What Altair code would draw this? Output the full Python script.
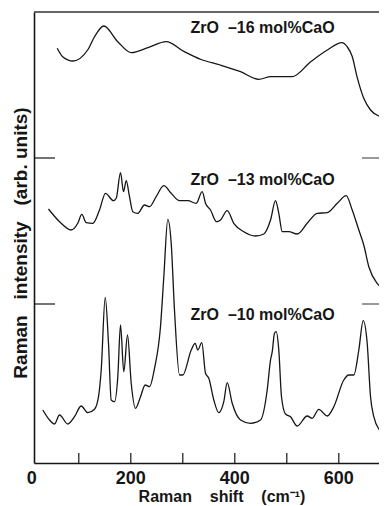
import altair as alt
import pandas as pd

# Raman shift (cm-1) and intensity (arb. units) relative to each trace's own baseline
shift_16 = [58.5, 69, 88.5, 117, 130, 148, 175, 201, 233, 268, 303, 335, 372, 411, 446,
            469, 510, 546, 578, 606, 616, 626, 635, 648, 661, 680, 693]
int_16 = [109.7, 101.3, 97, 108, 121, 132, 116.3, 105.3, 110.3, 116.3, 106.3, 98.5, 93, 86.3, 78.7,
          81.3, 81.3, 96.3, 108, 115.3, 111.3, 101.3, 81.3, 59.7, 48, 41.3, 38.7]

shift_13 = [41.7, 63, 85.4, 98, 105.8, 114.2, 127, 139.8, 151.3, 166.7, 172, 180.2, 186, 191.2,
            197.5, 203.8, 213.5, 226.3, 236, 248.8, 263.5, 277.7, 293.7, 309.6, 325.8, 337.3,
            343.7, 353.3, 364.8, 372.5, 385.4, 398, 417.3, 439.8, 455.8, 468.7, 478.3, 484.6,
            491.2, 503.8, 520, 539.2, 558.5, 577.7, 597, 614.2, 625.8, 638.5, 648, 657.7, 673.8, 693]
int_13 = [95, 82.3, 74, 80.7, 89.7, 81.3, 80.7, 94, 110.7, 103.3, 105.7, 131.3, 112.3, 123.3,
          107.3, 92.3, 90.7, 99, 97.3, 107.3, 118.3, 110.7, 103.3, 103.3, 100.7, 112.3,
          100.7, 94, 82.3, 84, 93.3, 80.7, 72.3, 68, 70, 84, 103.3, 90.7,
          72.3, 72.3, 70, 80.7, 90.7, 91.3, 100.7, 108.3, 94, 74, 59, 37.3, 20.7, 14]

shift_10 = [30.8, 43.7, 53.3, 62.9, 78.8, 91.7, 104.6, 117.3, 130.2, 137.9, 143.1, 150.8, 157.1,
            162.3, 168.7, 175, 180.2, 186.5, 193.7, 200.8, 209, 218.7, 227.7, 236, 245.6, 257.1,
            263.5, 271.2, 277.7, 284, 293.7, 300, 316.2, 323.8, 328.8, 336.5, 343.7, 350, 359.6,
            369.2, 378.8, 385.4, 395, 411, 430.2, 449.4, 462.3, 468.7, 472, 476.3, 479.6, 484.6,
            489.8, 497.5, 507.1, 520, 539.2, 548.8, 561.5, 577.7, 590.4, 609.6, 619.2, 628.8,
            638.5, 646.9, 654.6, 661, 667.3, 680.2, 693]
int_10 = [53, 43, 39, 48, 39, 46.3, 57, 50.3, 53.7, 66.3, 93, 165.7, 119.7,
          63, 61.3, 86.3, 138, 91.3, 128, 79.7, 54.7, 66.3, 78, 76.3, 94.7, 136.3,
          186.3, 243.7, 219.7, 153, 88, 88, 113, 119.7, 113, 120.3, 89.7, 84.7, 63,
          50.3, 61.3, 80.3, 59.7, 43, 39.7, 43, 73, 103, 111.3, 129.7, 131.3, 113,
          66.3, 49, 46.3, 37, 47, 44.7, 53.7, 47, 56.3, 83, 88, 88,
          113, 142.3, 119.7, 66.3, 46.3, 31.3, 23]

NB = "\u00a0"
series_names = ["ZrO" + NB * 2 + "\u201316" + NB + "mol%CaO",
                "ZrO" + NB * 2 + "\u201313" + NB + "mol%CaO",
                "ZrO" + NB * 2 + "\u201310" + NB + "mol%CaO"]
offsets = [305, 159, 0]
label_shift = [315, 315, 315]
label_rel_height = [125, 119, 143]

tick_values = [100, 200, 300, 400, 500, 600]
tick_labels = ["0", "200", "400", "600"]
tick_label_values = [0, 200, 400, 600]

x_title = "Raman" + NB * 4 + "shift" + NB * 4 + "(cm\u207b\u00b9)"
y_title = "Raman" + NB * 3 + "intensity" + NB * 3 + "(arb." + NB + "units)"

W, H = 345, 451
FONT = "Liberation Sans"
INK = "#161616"

rows = []
for name, off, xs_, ys_ in zip(series_names, offsets,
                               [shift_16, shift_13, shift_10],
                               [int_16, int_13, int_10]):
    for xv, yv in zip(xs_, ys_):
        rows.append({"series": name, "shift": xv, "y": yv + off})
spec = pd.DataFrame(rows)

xs = alt.Scale(domain=[13.85, 677.3], nice=False, zero=False)
ys = alt.Scale(domain=[0, 451], nice=False, zero=False)

lines = alt.Chart(spec).mark_line(
    color=INK, strokeWidth=1.3, interpolate="monotone", clip=True
).encode(
    x=alt.X("shift:Q", scale=xs,
            axis=alt.Axis(labels=False, ticks=False, grid=False, title=None,
                          domainColor=INK, domainWidth=1.6)),
    y=alt.Y("y:Q", scale=ys,
            axis=alt.Axis(labels=False, ticks=False, grid=False, title=None,
                          domainColor=INK, domainWidth=1.6)),
    detail="series:N",
    order="shift:Q",
)

lab_df = pd.DataFrame({
    "label": series_names,
    "shift": label_shift,
    "y": [h + o for h, o in zip(label_rel_height, offsets)],
})
labels = alt.Chart(lab_df).mark_text(
    align="left", baseline="alphabetic", font=FONT, fontSize=16, fontWeight="bold", color=INK
).encode(x=alt.X("shift:Q", scale=xs), y=alt.Y("y:Q", scale=ys), text="label:N")

base_df = pd.DataFrame({"y": offsets[:2]})
base_left = alt.Chart(base_df).mark_rule(color=INK, strokeWidth=1.2).encode(
    y=alt.Y("y:Q", scale=ys), x=alt.value(0), x2=alt.value(21))
base_right = alt.Chart(base_df).mark_rule(color="#555", strokeWidth=1.2).encode(
    y=alt.Y("y:Q", scale=ys), x=alt.value(W - 17), x2=alt.value(W))

tick_df = pd.DataFrame({"shift": tick_values})
ticks = alt.Chart(tick_df).mark_rule(color=INK, strokeWidth=1.2).encode(
    x=alt.X("shift:Q", scale=xs), y=alt.value(H), y2=alt.value(H - 10))

tl_df = pd.DataFrame({"label": tick_labels, "shift": tick_label_values})
tick_text0 = alt.Chart(tl_df.iloc[:1]).mark_text(
    align="left", baseline="alphabetic", font=FONT, fontSize=18, fontWeight="bold", color=INK
).encode(x=alt.X("shift:Q", scale=xs), y=alt.value(H + 21), text="label:N")
tick_text = alt.Chart(tl_df.iloc[1:]).mark_text(
    align="center", baseline="alphabetic", font=FONT, fontSize=18, fontWeight="bold", color=INK
).encode(x=alt.X("shift:Q", scale=xs), y=alt.value(H + 21), text="label:N")

top_df = pd.DataFrame({"a": [0]})
top_rule = alt.Chart(top_df).mark_rule(color="#333", strokeWidth=1.5).encode(
    x=alt.value(0), x2=alt.value(W), y=alt.value(0))

xt = alt.Chart(pd.DataFrame({"t": [x_title]})).mark_text(
    align="center", baseline="alphabetic", font=FONT, fontSize=16, fontWeight="bold", color=INK
).encode(x=alt.value(188), y=alt.value(H + 38.5), text="t:N")
yt = alt.Chart(pd.DataFrame({"t": [y_title]})).mark_text(
    align="center", baseline="alphabetic", angle=270, font=FONT, fontSize=19,
    fontWeight="bold", color=INK
).encode(x=alt.value(-7), y=alt.value(231), text="t:N")

chart = alt.layer(
    lines, labels, base_left, base_right, ticks, tick_text0, tick_text, top_rule, xt, yt
).properties(
    width=W, height=H,
    autosize=alt.AutoSizeParams(type="none"),
    padding={"left": 26, "top": 4, "right": 0, "bottom": 44},
).configure_view(stroke=None)

chart.save("out.html", embed_options={"renderer": "svg", "actions": False})
